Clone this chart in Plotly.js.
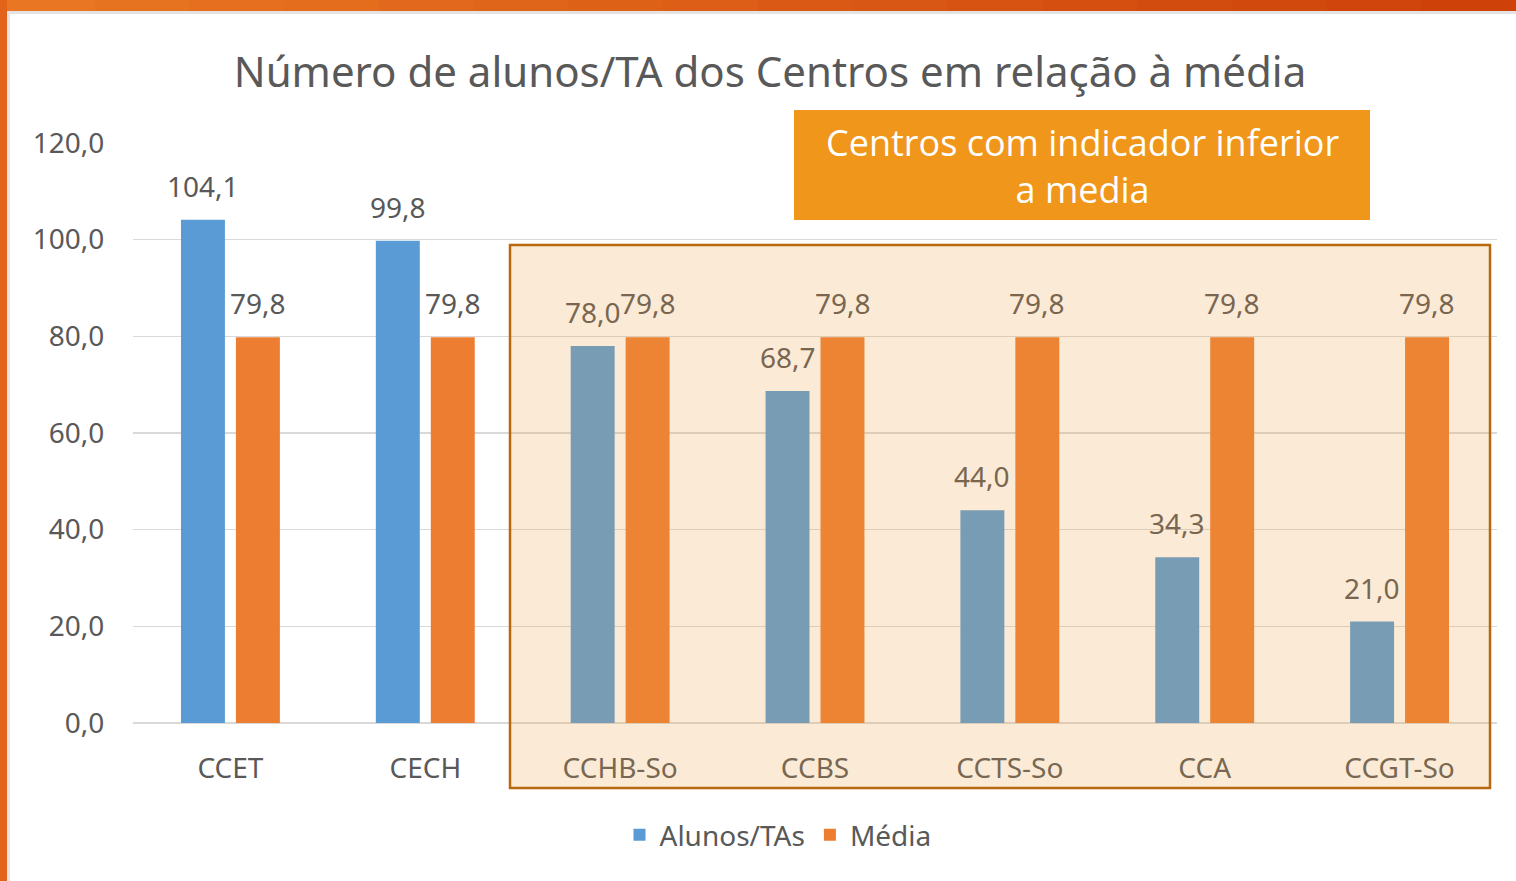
<!DOCTYPE html>
<html>
<head>
<meta charset="utf-8">
<script src="https://cdn.plot.ly/plotly-3.0.1.min.js"></script>
<style>
html,body{margin:0;padding:0;background:#ffffff;}
#chart{width:1516px;height:881px;}
</style>
</head>
<body>
<div id="chart"></div>
<script>
// ---- data ----
var categories = ["CCET", "CECH", "CCHB-So", "CCBS", "CCTS-So", "CCA", "CCGT-So"];
var alunosTAs = [104.1, 99.8, 78.0, 68.7, 44.0, 34.3, 21.0];
var media = [79.8, 79.8, 79.8, 79.8, 79.8, 79.8, 79.8];
var seriesNames = ["Alunos/TAs", "Média"];
var yTicks = [0, 20, 40, 60, 80, 100, 120];
var chartTitle = "Número de alunos/TA dos Centros em relação à média";
var boxText = "Centros com indicador inferior<br>a media";
var highlightedFrom = "CCHB-So";

// ---- layout geometry (pixels) ----
var Wfig = 1516, Hfig = 881;
var L = 133, R = 19, T = 143, B = 158;
var W = Wfig - L - R, H = Hfig - T - B;
function px(x) { return (x - L) / W; }
function py(y) { return (T + H - y) / H; }

var blue = "#5B9BD5", orange = "#ED7D31";
var textGrey = "#595959";
var tintText = "#7a6650";

function fmt(v) { return v.toFixed(1).replace(".", ","); }

var traces = [
  { type: "bar", name: seriesNames[0], x: categories, y: alunosTAs,
    marker: { color: blue }, hoverinfo: "skip" },
  { type: "bar", name: seriesNames[1], x: categories, y: media,
    marker: { color: orange }, hoverinfo: "skip" }
];

var hiIdx = categories.indexOf(highlightedFrom);
var annotations = [];
categories.forEach(function (c, i) {
  var col = i >= hiIdx ? tintText : textGrey;
  annotations.push({ x: c, y: alunosTAs[i], xref: "x", yref: "y", text: fmt(alunosTAs[i]),
    showarrow: false, xshift: -27.5, yshift: 13, yanchor: "bottom",
    font: { family: "Noto Sans, sans-serif", size: 28, color: col } });
  annotations.push({ x: c, y: media[i], xref: "x", yref: "y", text: fmt(media[i]),
    showarrow: false, xshift: 27.5, yshift: 13, yanchor: "bottom",
    font: { family: "Noto Sans, sans-serif", size: 28, color: col } });
});
// callout box text
annotations.push({ xref: "paper", yref: "paper", x: px(1082), y: py(166), text: boxText,
  showarrow: false, xanchor: "center", yanchor: "middle", align: "center",
  font: { family: "Open Sans, sans-serif", size: 36, color: "#ffffff" } });

var shapes = [];
// slide frame: top band gradient and left band
var segs = 16;
for (var s = 0; s < segs; s++) {
  var t = s / (segs - 1);
  var r = Math.round(232 + (206 - 232) * t), g = Math.round(118 + (66 - 118) * t), b = Math.round(34 + (10 - 34) * t);
  shapes.push({ type: "rect", xref: "paper", yref: "paper", layer: "above",
    x0: px(s * Wfig / segs), x1: px((s + 1) * Wfig / segs + 1), y0: py(11), y1: py(0),
    fillcolor: "rgb(" + r + "," + g + "," + b + ")", line: { width: 0 } });
}
shapes.push({ type: "rect", xref: "paper", yref: "paper", layer: "above",
  x0: px(0), x1: px(7), y0: py(Hfig), y1: py(0), fillcolor: "#E2631A", line: { width: 0 } });
shapes.push({ type: "rect", xref: "paper", yref: "paper", layer: "above",
  x0: px(7), x1: px(Wfig), y0: py(14), y1: py(11), fillcolor: "#E3E3E3", line: { width: 0 } });
shapes.push({ type: "rect", xref: "paper", yref: "paper", layer: "above",
  x0: px(7), x1: px(10), y0: py(Hfig), y1: py(11), fillcolor: "#E3E3E3", line: { width: 0 } });
// highlighted region overlay
shapes.push({ type: "rect", xref: "paper", yref: "paper", layer: "above",
  x0: px(510), x1: px(1490), y0: py(788), y1: py(245),
  fillcolor: "rgba(237,160,63,0.21)", line: { color: "#B8690F", width: 2.5 } });
// callout box
shapes.push({ type: "rect", xref: "paper", yref: "paper", layer: "above",
  x0: px(794), x1: px(1370), y0: py(220), y1: py(110),
  fillcolor: "#F0961A", line: { width: 0 } });

var layout = {
  width: Wfig, height: Hfig,
  margin: { l: L, r: R, t: T, b: B, pad: 0 },
  paper_bgcolor: "#ffffff", plot_bgcolor: "#ffffff",
  separators: ",.",
  barmode: "group", bargap: 0.436, bargroupgap: 0.2,
  showlegend: true,
  font: { family: "Noto Sans, sans-serif", color: textGrey },
  title: { text: chartTitle, xref: "paper", x: px(770), xanchor: "center",
    yref: "container", y: 1 - 72 / Hfig, yanchor: "middle",
    font: { family: "Noto Sans, sans-serif", size: 42, color: textGrey } },
  xaxis: { type: "category", showgrid: false, zeroline: false, showline: false,
    ticks: "outside", ticklen: 20, tickcolor: "rgba(0,0,0,0)",
    tickfont: { family: "Noto Sans, sans-serif", size: 28, color: textGrey }, fixedrange: true },
  yaxis: { range: [0, 120], tickvals: yTicks, tickformat: ".1f",
    showgrid: true, gridcolor: "#D9D9D9", gridwidth: 1.3,
    zeroline: true, zerolinecolor: "#D9D9D9", zerolinewidth: 1.3, showline: false,
    ticks: "outside", ticklen: 22, tickcolor: "rgba(0,0,0,0)",
    tickfont: { family: "Noto Sans, sans-serif", size: 28, color: textGrey }, fixedrange: true },
  legend: { orientation: "h", xref: "paper", x: px(778), xanchor: "center",
    yref: "paper", y: py(835), yanchor: "middle",
    font: { family: "Noto Sans, sans-serif", size: 28, color: textGrey },
    itemwidth: 30, tracegroupgap: 0 },
  annotations: annotations,
  shapes: shapes
};

Plotly.newPlot("chart", traces, layout, { displayModeBar: false, staticPlot: true });
</script>
</body>
</html>
